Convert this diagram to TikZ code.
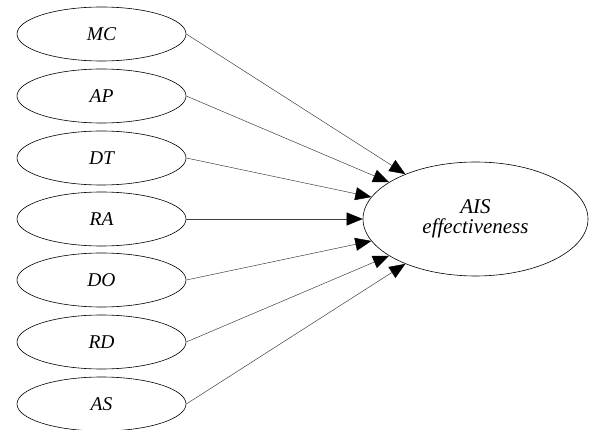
\documentclass[tikz,border=0pt]{standalone}
\usepackage{fontspec}
\setmainfont{Liberation Serif}
\usetikzlibrary{shapes,arrows.meta,calc}
\tikzset{>={Triangle[length=16pt,width=13pt,color=black]}}
\tikzset{
    factor/.style={ellipse,draw,line width=0.6pt,minimum width=169pt,minimum height=54pt,
        inner sep=0pt,align=center,font=\fontsize{19.5}{21}\selectfont\itshape},
    outcome/.style={ellipse,draw,line width=0.6pt,minimum width=225pt,minimum height=114pt,
        inner sep=0pt,align=center,font=\fontsize{21}{20.5}\selectfont\itshape},
    path/.style={->,draw=black!75,line width=0.5pt}
}

\begin{document}
\begin{tikzpicture}[x=1pt,y=-1pt]

    \useasboundingbox (0,0) rectangle (589,430);

    \def\xLeft{101.5}
    \def\xRight{475.5}
    \def\yMC{34}
    \def\yAP{96}
    \def\yDT{158}
    \def\yRA{219}
    \def\yDO{280}
    \def\yRD{342}
    \def\yAS{404}

    \node[factor] at (\xLeft,\yMC) (mc) {MC};
    \node[factor] at (\xLeft,\yAP) (ap) {AP};
    \node[factor] at (\xLeft,\yDT) (dt) {DT};
    \node[factor] at (\xLeft,\yRA) (ra) {RA};
    \node[factor] at (\xLeft,\yDO) (do) {DO};
    \node[factor] at (\xLeft,\yRD) (rd) {RD};
    \node[factor] at (\xLeft,\yAS) (as) {AS};

    \node[outcome] at (\xRight,\yRA) (ais) {AIS\\effectiveness};

    \draw[path] (mc.east) -- (ais);
    \draw[path] (ap.east) -- (ais);
    \draw[path] (dt.east) -- (ais);
    \draw[path] (ra.east) -- (ais);
    \draw[path] (do.east) -- (ais);
    \draw[path] (rd.east) -- (ais);
    \draw[path] (as.east) -- (ais);

\end{tikzpicture}
\end{document}
